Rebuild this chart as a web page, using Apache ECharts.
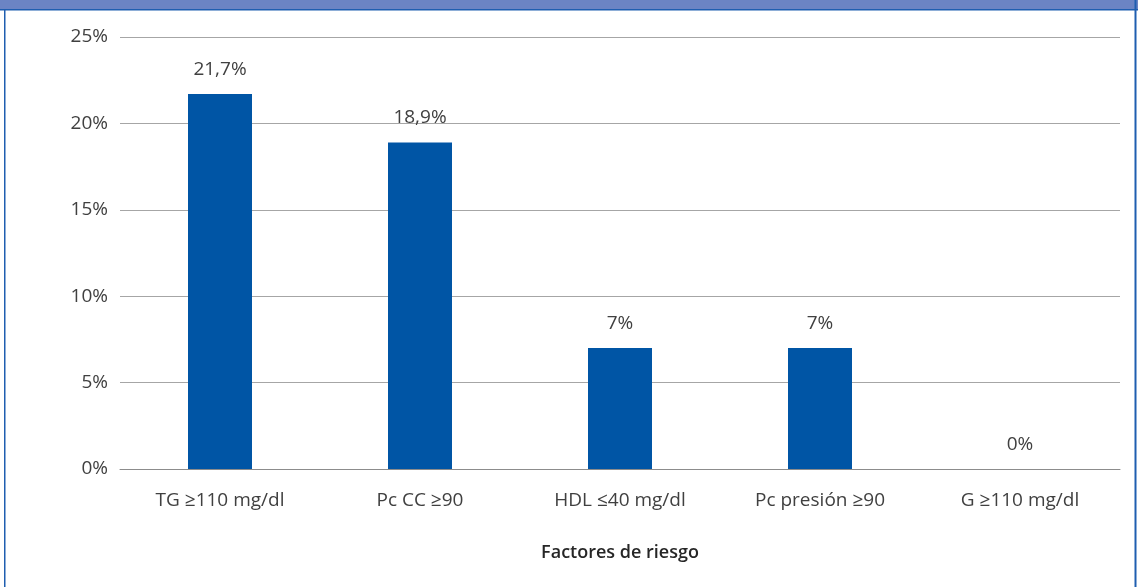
<!DOCTYPE html>
<html>
<head>
<meta charset="utf-8">
<script src="https://cdn.jsdelivr.net/npm/echarts@6/dist/echarts.min.js"></script>
<style>
html,body{margin:0;padding:0;background:#fff;}
#chart{width:1138px;height:587px;}
</style>
</head>
<body>
<div id="chart"></div>
<script>
const categories = ['TG \u2265110 mg/dl', 'Pc CC \u226590', 'HDL \u226440 mg/dl', 'Pc presi\u00f3n \u226590', 'G \u2265110 mg/dl'];
const values = [21.7, 18.9, 7, 7, 0];
const valueLabels = ['21,7%', '18,9%', '7%', '7%', '0%'];
const yTicks = [0, 5, 10, 15, 20, 25];
const xAxisName = 'Factores de riesgo';

const FONT = '"Open Sans", "Noto Sans", sans-serif';
const chart = echarts.init(document.getElementById('chart'), null, {renderer: 'canvas'});
chart.setOption({
  backgroundColor: '#ffffff',
  animation: false,
  textStyle: {fontFamily: FONT},
  graphic: [
    {type: 'rect', shape: {x: 0, y: 0, width: 1138, height: 9}, style: {fill: '#6b84c4'}, silent: true},
    {type: 'rect', shape: {x: 0, y: 9, width: 1138, height: 1.5}, style: {fill: '#1f5eb0'}, silent: true},
    {type: 'rect', shape: {x: 4, y: 9, width: 1.5, height: 578}, style: {fill: '#1f5eb0'}, silent: true},
    {type: 'rect', shape: {x: 1134.5, y: 0, width: 2, height: 587}, style: {fill: '#1f5eb0'}, silent: true}
  ],
  grid: {left: 120, right: 18, top: 37, bottom: 118, containLabel: false},
  xAxis: {
    type: 'category',
    data: categories,
    name: xAxisName,
    nameLocation: 'middle',
    nameGap: 75,
    nameTextStyle: {fontSize: 18, fontWeight: 600, color: '#262626', fontFamily: FONT},
    axisLine: {show: true, lineStyle: {color: '#8c8c8c', width: 1}},
    axisTick: {show: false},
    axisLabel: {fontSize: 19, color: '#404040', margin: 22, fontFamily: FONT},
  },
  yAxis: {
    type: 'value',
    min: yTicks[0],
    max: yTicks[yTicks.length - 1],
    interval: 5,
    axisLine: {show: false},
    axisTick: {show: false},
    axisLabel: {fontSize: 19, color: '#404040', margin: 12, formatter: v => v + '%', fontFamily: FONT},
    splitLine: {show: true, lineStyle: {color: '#a6a6a6', width: 1}}
  },
  series: [{
    type: 'bar',
    data: values,
    barWidth: 64,
    itemStyle: {color: '#0055a5'},
    label: {
      show: true,
      position: 'top',
      distance: 15,
      fontSize: 19,
      color: '#404040',
      fontFamily: FONT,
      formatter: p => valueLabels[p.dataIndex]
    }
  }]
});
</script>
</body>
</html>
